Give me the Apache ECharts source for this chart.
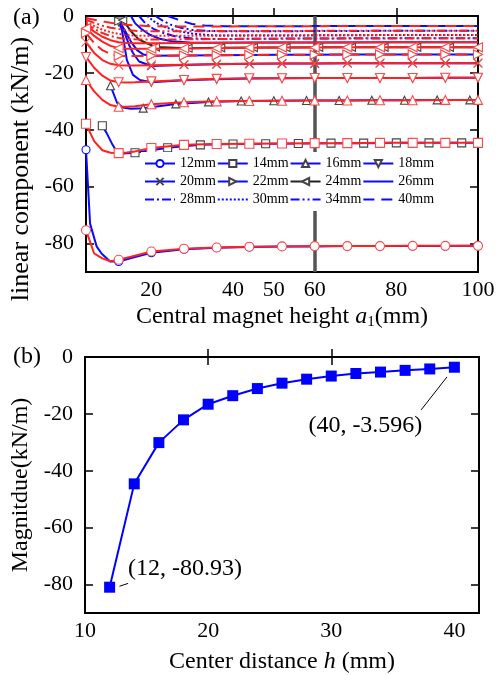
<!DOCTYPE html>
<html><head><meta charset="utf-8">
<script src="https://cdn.jsdelivr.net/npm/echarts@6/dist/echarts.min.js"></script>
<style>html,body{margin:0;padding:0;background:#fff}#c{width:497px;height:675px}</style>
</head><body><div id="c"></div>
<script>
// ---------- data (a) ----------
const hNames = ['12mm','14mm','16mm','18mm','20mm','22mm','24mm','26mm','28mm','30mm','34mm','40mm'];
const xRed = [4,6,8,10,12,14,16,20,28,36,44,52,60,68,76,84,92,100];
const red12 = [-75.3,-83.5,-85.2,-86.2,-85.7,-85.0,-84.3,-82.8,-81.8,-81.4,-81.1,-81.0,-80.9,-80.9,-80.9,-80.8,-80.8,-80.8];
const red14 = [-37.9,-44.0,-47.2,-48.1,-48.2,-48.0,-47.6,-46.4,-45.3,-45.0,-44.9,-44.8,-44.7,-44.7,-44.6,-44.6,-44.6,-44.6];
const red16 = [-22.5,-26.5,-29.5,-31.3,-31.9,-31.9,-31.7,-31.0,-30.3,-30.0,-29.9,-29.8,-29.7,-29.7,-29.6,-29.6,-29.5,-29.5];
const red18 = [-14.4,-18.2,-21.0,-22.7,-23.3,-23.4,-23.3,-23.0,-22.5,-22.1,-21.9,-21.9,-21.8,-21.8,-21.8,-21.8,-21.7,-21.7];
const red20 = [-9.2,-13.0,-15.5,-16.8,-17.3,-17.4,-17.4,-17.3,-17.1,-16.9,-16.8,-16.7,-16.7,-16.6,-16.6,-16.6,-16.6,-16.6];
const red22 = [-6.0,-9.5,-12.0,-13.4,-14.0,-14.1,-14.1,-14.0,-13.9,-13.8,-13.7,-13.6,-13.6,-13.5,-13.5,-13.5,-13.5,-13.5];
const red24 = [-4.3,-7.0,-9.0,-10.5,-11.3,-11.5,-11.5,-11.5,-11.4,-11.3,-11.2,-11.1,-11.1,-11.0,-11.0,-11.0,-11.0,-11.0];
const red26 = [-3.3,-5.5,-7.3,-8.5,-9.2,-9.5,-9.6,-9.6,-9.5,-9.4,-9.4,-9.3,-9.3,-9.3,-9.2,-9.2,-9.2,-9.2];
const red28 = [-2.6,-4.5,-6.0,-7.0,-7.7,-8.1,-8.2,-8.3,-8.2,-8.1,-8.0,-8.0,-7.9,-7.9,-7.9,-7.8,-7.8,-7.8];
const red30 = [-2.0,-3.5,-4.8,-5.7,-6.3,-6.7,-6.9,-7.0,-6.9,-6.9,-6.8,-6.8,-6.8,-6.7,-6.7,-6.7,-6.7,-6.7];
const red34 = [-1.3,-2.4,-3.4,-4.1,-4.6,-5.0,-5.2,-5.4,-5.4,-5.3,-5.3,-5.3,-5.2,-5.2,-5.2,-5.2,-5.2,-5.2];
const red40 = [-0.7,-1.3,-1.9,-2.4,-2.8,-3.1,-3.3,-3.6,-3.7,-3.7,-3.6,-3.6,-3.6,-3.5,-3.5,-3.5,-3.5,-3.5];

const b12x = [4,5,5.7,6.6,7.8,9.9,12,14,16,20,28,36,44,52,60,68,76,84,92,100];
const b12y = [-47,-73,-76.5,-81,-83.5,-86.3,-86.3,-85.5,-84.7,-83.2,-82,-81.5,-81.2,-81,-81,-80.9,-80.9,-80.9,-80.9,-80.8];
const b14x = [8,9,10.3,11.5,13,16,24,32,40,48,56,64,72,80,88,96,100];
const b14y = [-38.6,-41,-44.7,-47.6,-48.3,-48.1,-46.3,-45.3,-45,-44.9,-44.8,-44.7,-44.7,-44.6,-44.6,-44.6,-44.6];
const b16x = [10,11.6,13,15,18,26,34,42,50,58,66,74,82,90,98,100];
const b16y = [-24.5,-30.5,-32.2,-32.6,-32.4,-30.9,-30.2,-29.9,-29.8,-29.7,-29.7,-29.6,-29.6,-29.5,-29.5,-29.5];
const b18x = [12,12.8,14,15.5,17.2,20,28,36,44,52,60,68,76,84,92,100];
const b18y = [-2.1,-5,-15.4,-20.7,-22.5,-23.3,-22.6,-22.2,-22,-21.9,-21.8,-21.8,-21.8,-21.8,-21.7,-21.7];
const b20x = [12.5,13.5,14.5,15.5,17,20,28,36,44,52,60,68,76,84,92,100];
const b20y = [-2,-6,-10,-13,-16,-17.6,-17.2,-17,-16.8,-16.7,-16.7,-16.6,-16.6,-16.6,-16.6,-16.6];
const b22x = [12,13.5,15,16.5,18,20,28,36,44,52,60,68,76,84,92,100];
const b22y = [-1.8,-5,-9,-12,-13.5,-14,-13.9,-13.8,-13.7,-13.6,-13.6,-13.5,-13.5,-13.5,-13.5,-13.5];
const b24x = [13,15.4,17,18.8,21,29,37,45,53,61,69,77,85,93,100];
const b24y = [-1.5,-6,-8.3,-9.5,-10.9,-11.3,-11.2,-11.1,-11.1,-11,-11,-11,-11,-11,-11];
const b26x = [15,16,17.5,19.5,22,25,30,36,44,60,80,100];
const b26y = [0,-2.5,-4.5,-6.5,-8,-8.9,-9.4,-9.4,-9.3,-9.3,-9.2,-9.2];
const b28x = [17,18.5,20.5,23,26,30,36,44,60,80,100];
const b28y = [0,-2.5,-4.5,-6,-7.2,-7.9,-8.1,-8,-7.9,-7.8,-7.8];
const b30x = [19,21,23.5,26.5,30,35,44,60,80,100];
const b30y = [0,-2.3,-4,-5.3,-6.2,-6.8,-6.9,-6.8,-6.7,-6.7];
const b34x = [21,23,25,27.5,30,34,44,60,80,100];
const b34y = [0,-1.8,-3.2,-4.2,-4.9,-5.3,-5.4,-5.3,-5.2,-5.2];
const b40x = [24,26,28,30,33,38,50,70,100];
const b40y = [0,-1,-2,-2.8,-3.3,-3.6,-3.6,-3.5,-3.5];

const xTickA = [20,40,50,60,80,100];
const yTickA = [-80,-60,-40,-20,0];
const refLineX = 60;

// ---------- data (b) ----------
const hVals = [12,14,16,18,20,22,24,26,28,30,32,34,36,38,40];
const magVals = [-80.93,-44.6,-30.1,-22.1,-16.6,-13.6,-11.1,-9.2,-7.8,-6.7,-5.8,-5.3,-4.7,-4.2,-3.596];
const xTickB = [10,20,30,40];
const yTickB = [-80,-60,-40,-20,0];

// ---------- styles ----------
const FF = 'Liberation Serif';
const BLUE = '#0a0aff', RED = '#ff2020', GRAY = '#444';
const NOSYM = 'path://M0,0L10,0L10,10L0,10Z';
const S = {
  circle:'circle', rect:'rect', tri:'triangle',
  down:'path://M0,0L10,0L5,9Z', right:'path://M0,0L9,5L0,10Z', left:'path://M9,0L0,5L9,10Z',
  x:'path://M0,0L10,10M10,0L0,10'
};
const styleOf = {
  '12mm':{sym:S.circle,type:'solid'}, '14mm':{sym:S.rect,type:'solid'}, '16mm':{sym:S.tri,type:'solid'},
  '18mm':{sym:S.down,type:'solid'}, '20mm':{sym:S.x,type:'solid'}, '22mm':{sym:S.right,type:'solid'},
  '24mm':{sym:S.left,type:'solid'}, '26mm':{sym:NOSYM,type:'solid'}, '28mm':{sym:NOSYM,type:[9,3,2,3]},
  '30mm':{sym:NOSYM,type:[2,2]}, '34mm':{sym:NOSYM,type:[9,3,2,3,2,3]}, '40mm':{sym:NOSYM,type:[11,7]}
};
function isMark(x, m0){ const r = ((x - m0) % 8 + 8) % 8; return r < 0.05 || r > 7.95; }
function mkSeries(name, xs, ys, m0, isRed){
  const st = styleOf[name];
  const lineColor = isRed ? RED : (name === '24mm' ? '#222' : BLUE);
  const mColor = isRed ? '#ff4a4a' : (name === '12mm' ? BLUE : GRAY);
  let ltype = st.type;
  if (isRed && name === '22mm') ltype = [12,6];
  const hasSym = st.sym !== NOSYM;
  return {
    name: isRed ? ('r' + name) : name, type:'line', xAxisIndex:0, yAxisIndex:0,
    symbol: st.sym, symbolSize: isRed ? 9 : 8, showAllSymbol:true, smooth:false,
    data: xs.map((x,i)=>({value:[x, ys[i]], symbol: (hasSym && isMark(x,m0)) ? st.sym : 'none'})),
    lineStyle:{color:lineColor, width:2, type:ltype},
    itemStyle: hasSym ? {color:'#fff', borderColor:mColor, borderWidth:1.1}
                      : {color:'rgba(255,255,255,0)', borderColor:'rgba(255,255,255,0)', borderWidth:0},
    emphasis:{disabled:true}, z: isRed ? 3 : 2
  };
}
const redArr = {'12mm':red12,'14mm':red14,'16mm':red16,'18mm':red18,'20mm':red20,'22mm':red22,'24mm':red24,'26mm':red26,'28mm':red28,'30mm':red30,'34mm':red34,'40mm':red40};
const blueArr = {'12mm':[b12x,b12y,4],'14mm':[b14x,b14y,8],'16mm':[b16x,b16y,10],'18mm':[b18x,b18y,4],'20mm':[b20x,b20y,4],
  '22mm':[b22x,b22y,4],'24mm':[b24x,b24y,13],'26mm':[b26x,b26y,0],'28mm':[b28x,b28y,0],'30mm':[b30x,b30y,0],'34mm':[b34x,b34y,0],'40mm':[b40x,b40y,0]};

const series = [];
hNames.forEach(n => { const b = blueArr[n]; series.push(mkSeries(n, b[0], b[1], b[2], false)); });
hNames.forEach(n => { series.push(mkSeries(n, xRed, redArr[n], 4, true)); });
series[series.length-1].markLine = {silent:true, symbol:['none','none'], label:{show:false},
  lineStyle:{color:'#555', width:3.5, type:'solid'}, data:[{xAxis:refLineX}], z:1};

series.push({
  name:'mag', type:'line', xAxisIndex:2, yAxisIndex:2,
  data: hVals.map((h,i)=>[h, magVals[i]]),
  symbol:'rect', symbolSize:11, lineStyle:{color:'#0000ff', width:2}, itemStyle:{color:'#0000ff'},
  emphasis:{disabled:true},
  markLine:{silent:true, symbol:['none','none'], label:{show:false}, lineStyle:{color:'#000', width:1, type:'solid'},
    data:[[{coord:[12.8,-80.6]},{coord:[13.5,-79.6]}],[{coord:[39.4,-7]},{coord:[37.3,-18.6]}]]},
  markPoint:{silent:true, symbol:'circle', symbolSize:0,
    label:{show:true, color:'#000', fontFamily:FF, fontSize:24},
    data:[
      {coord:[13.5,-74.6], label:{position:'right', distance:0, formatter:'(12, -80.93)'}},
      {coord:[37.4,-24.0], label:{position:'left', distance:0, formatter:'(40, -3.596)'}}
    ]}
});

const tickStyle = {show:true, inside:true, length:8, lineStyle:{color:'#000', width:1.5}};
const lblStyle = {color:'#000', fontFamily:FF, fontSize:22};
function xAx(grid, min, max, ticks, labels, pos, showLbl, name, gap){
  return {type:'value', gridIndex:grid, min:min, max:max, position:pos,
    axisLine:{show:false}, splitLine:{show:false},
    axisTick:Object.assign({customValues:ticks}, tickStyle),
    axisLabel:Object.assign({show:showLbl, customValues:labels, margin:7}, lblStyle),
    name:name||'', nameLocation:'middle', nameGap:gap||0,
    nameTextStyle:{color:'#000', fontFamily:FF, fontSize:24,
      rich:{i:{fontStyle:'italic', fontFamily:FF, fontSize:24}, s:{fontFamily:FF, fontSize:15, padding:[12,0,0,0]}}}};
}
function yAx(grid, ticks, labels, pos, showLbl, name, gap, fs, pad){
  return {type:'value', gridIndex:grid, min:-90, max:0, position:pos,
    axisLine:{show:false}, splitLine:{show:false},
    axisTick:Object.assign({customValues:ticks}, tickStyle),
    axisLabel:Object.assign({show:showLbl, customValues:labels, margin:12}, lblStyle),
    name:name||'', nameLocation:'middle', nameGap:gap||0, nameRotate:90,
    nameTextStyle:{color:'#000', fontFamily:FF, fontSize:fs||23, padding:pad||0}};
}

const option = {
  animation:false, backgroundColor:'#fff',
  title:[
    {text:'(a)', left:8, top:1, textStyle:{fontFamily:FF, fontSize:24, fontWeight:'normal', color:'#000'}},
    {text:'(b)', left:8, top:340, textStyle:{fontFamily:FF, fontSize:24, fontWeight:'normal', color:'#000'}}
  ],
  legend:{data:hNames, left:141, top:152, width:330, padding:[3,3,3,3], itemWidth:30, itemHeight:9, itemGap:1,
    backgroundColor:'#fff', selectedMode:false, z:10,
    textStyle:{color:'#000', fontFamily:FF, fontSize:14, lineHeight:17}},
  grid:[
    {left:86, right:19, top:16, bottom:403, show:true, borderColor:'#000', borderWidth:2, backgroundColor:'transparent', outerBoundsMode:'none', containLabel:false},
    {left:85, right:18, top:357, bottom:62, show:true, borderColor:'#000', borderWidth:2, backgroundColor:'transparent', outerBoundsMode:'none', containLabel:false}
  ],
  xAxis:[
    xAx(0, 4, 100, [20,40,50,80], xTickA, 'bottom', true, 'Central magnet height {i|a}{s|1}(mm)', 31),
    xAx(0, 4, 100, [40,80], [], 'top', false),
    xAx(1, 10, 42, [20,30], xTickB, 'bottom', true, 'Center distance {i|h} (mm)', 37),
    xAx(1, 10, 42, [20,30], [], 'top', false)
  ],
  yAxis:[
    yAx(0, [-80,-60,-40,-20], yTickA, 'left', true, 'linear component (kN/m)', 51, 26, [0,50,0,0]),
    yAx(0, [-80,-60,-40,-20], [], 'right', false),
    yAx(1, [-80,-60,-40,-20], yTickB, 'left', true, 'Magnitdue(kN/m)', 46, 24),
    yAx(1, [-80,-60,-40,-20], [], 'right', false)
  ],
  series: series
};
const chart = echarts.init(document.getElementById('c'), null, {renderer:'canvas'});
chart.setOption(option);
</script></body></html>
